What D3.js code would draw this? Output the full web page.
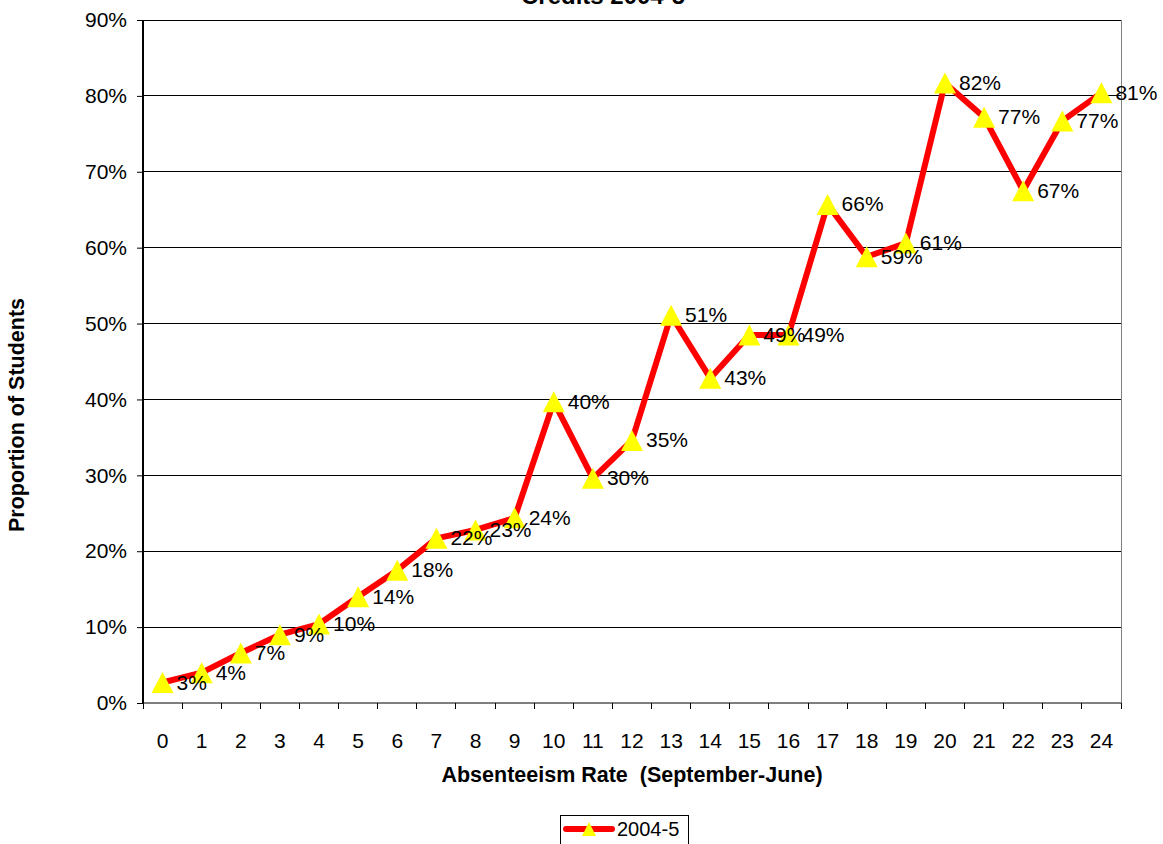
<!DOCTYPE html>
<html><head><meta charset="utf-8">
<script src="https://cdn.jsdelivr.net/npm/d3@7"></script>
<style>body{margin:0;background:#fff}svg{display:block;font-family:"Liberation Sans",Arial,sans-serif}text{white-space:pre}</style>
</head><body><svg id="c" width="1163" height="844"></svg>
<script>
const categories = d3.range(0, 25).map(String);
const values = [0.027,0.04,0.066,0.09,0.104,0.14,0.175,0.217,0.228,0.244,0.397,0.296,0.346,0.511,0.428,0.485,0.485,0.657,0.588,0.606,0.817,0.772,0.675,0.767,0.804];
const valueLabels = ["3%","4%","7%","9%","10%","14%","18%","22%","23%","24%","40%","30%","35%","51%","43%","49%","49%","66%","59%","61%","82%","77%","67%","77%","81%"];
const yTicks = [0,0.1,0.2,0.3,0.4,0.5,0.6,0.7,0.8,0.9];
const seriesName = "2004-5";
const titleText = "Credits 2004-5";
const xTitle = "Absenteeism Rate  (September-June)";
const yTitle = "Proportion of Students";

const L = 143, R = 1121, T = 20, B = 703;
const svg = d3.select("#c");
const x = d3.scaleBand().domain(categories).range([L, R]);
const y = d3.scaleLinear().domain([0, 0.9]).range([B, T]);

// title (clipped at top, as in the reference)
svg.append("text").attr("x", 603).attr("y", 4).attr("text-anchor", "middle")
  .attr("font-weight", "bold").attr("font-size", 24).text(titleText);

// gridlines
svg.append("g").selectAll("line").data(yTicks.filter(d => d > 0)).join("line")
  .attr("x1", L).attr("x2", R).attr("y1", d => y(d)).attr("y2", d => y(d))
  .attr("stroke", "#000").attr("stroke-width", 1).attr("shape-rendering", "crispEdges");
// right border
svg.append("line").attr("x1", R).attr("x2", R).attr("y1", T).attr("y2", B)
  .attr("stroke", "#808080").attr("shape-rendering", "crispEdges");

// y axis
const yAxis = d3.axisLeft(y).tickValues(yTicks).tickFormat(d3.format(".0%")).tickSize(6).tickPadding(10);
const gy = svg.append("g").attr("transform", `translate(${L},0)`).call(yAxis);
gy.select(".domain").attr("stroke", "#000").attr("stroke-width", 2).attr("d", `M0,${T}V${B}`);
gy.selectAll(".tick line").attr("stroke", "#000");
gy.selectAll(".tick text").attr("font-size", 21).attr("font-family", "Liberation Sans, Arial, sans-serif").attr("fill", "#000");

// x axis
const xAxis = d3.axisBottom(x).tickSize(0).tickPadding(30);
const gx = svg.append("g").attr("transform", `translate(0,${B})`).call(xAxis);
gx.select(".domain").attr("stroke", "#000").attr("stroke-width", 1).attr("d", `M${L},0H${R}`);
gx.selectAll(".tick text").attr("font-size", 21).attr("font-family", "Liberation Sans, Arial, sans-serif").attr("fill", "#000");
// tick marks between categories
const bounds = categories.map(c => x(c)).concat([R]);
gx.append("g").selectAll("line").data(bounds).join("line")
  .attr("x1", d => d).attr("x2", d => d).attr("y1", 0).attr("y2", 6)
  .attr("stroke", "#000").attr("shape-rendering", "crispEdges");

// axis titles
svg.append("text").attr("x", 632).attr("y", 782).attr("text-anchor", "middle")
  .attr("font-weight", "bold").attr("font-size", 21.5).text(xTitle);
svg.append("text").attr("transform", "translate(24,415) rotate(-90)").attr("text-anchor", "middle")
  .attr("font-weight", "bold").attr("font-size", 21.5).text(yTitle);

// line
const cx = (d, i) => x(categories[i]) + x.bandwidth() / 2;
const line = d3.line().x((d, i) => cx(d, i)).y(d => y(d));
svg.append("path").datum(values).attr("d", line).attr("fill", "none")
  .attr("stroke", "#ff0000").attr("stroke-width", 6).attr("stroke-linejoin", "round");

const tri = "M0,-10.5L11,10.5L-11,10.5Z";
svg.append("g").selectAll("path").data(values).join("path")
  .attr("transform", (d, i) => `translate(${cx(d, i)},${y(d)})`)
  .attr("d", tri).attr("fill", "#ffff00");

svg.append("g").selectAll("text").data(values).join("text")
  .attr("x", (d, i) => cx(d, i) + 14).attr("y", d => y(d) + 7)
  .attr("font-size", 21).attr("fill", "#000").text((d, i) => valueLabels[i]);

// legend
const lg = svg.append("g");
lg.append("rect").attr("x", 560.5).attr("y", 815.5).attr("width", 128).attr("height", 40)
  .attr("fill", "#fff").attr("stroke", "#000");
lg.append("line").attr("x1", 566).attr("x2", 612).attr("y1", 829).attr("y2", 829)
  .attr("stroke", "#ff0000").attr("stroke-width", 6).attr("stroke-linecap", "round");
lg.append("path").attr("transform", "translate(589,829)").attr("d", "M0,-7L7,7L-7,7Z").attr("fill", "#ffff00");
lg.append("text").attr("x", 617).attr("y", 836).attr("font-size", 20).text(seriesName);
</script></body></html>
